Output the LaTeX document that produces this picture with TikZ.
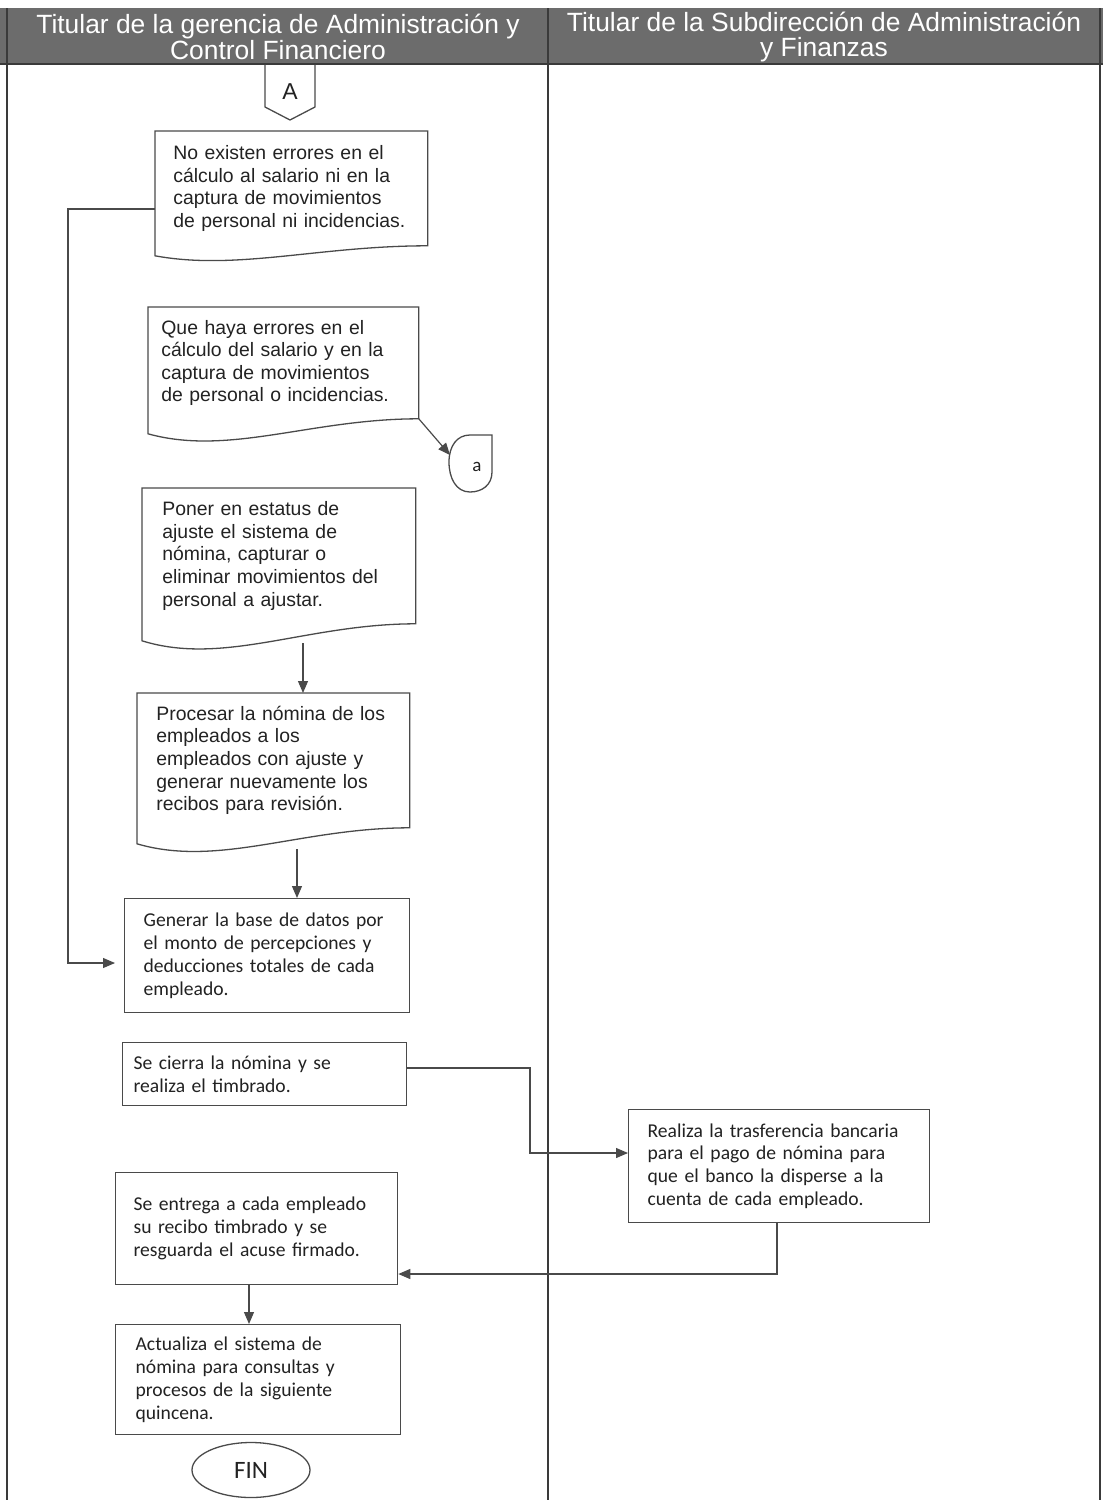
\documentclass[tikz,border=0pt]{standalone}
\usepackage{fontspec}
\setmainfont{Liberation Sans}
\newfontfamily\calibri{Carlito}
\usetikzlibrary{arrows.meta,calc,shapes.geometric}

\definecolor{inkc}{HTML}{222222}
\definecolor{linec}{HTML}{4A4A4A}
\definecolor{headc}{HTML}{6C6C6C}
\definecolor{lanec}{HTML}{3A3A3A}

\newcommand\arialtext{\fontsize{9.7pt}{11.3pt}\selectfont}
\newcommand\calitext{\calibri\fontsize{9.8pt}{11.4pt}\selectfont}
\newcommand\headtext{\fontsize{13.2pt}{12.8pt}\selectfont}

% document symbol: straight top and sides, wavy bottom edge
\newcommand\docoutline[2]{%
  \draw[boxline] (#1.north west) -- (#1.north east) -- (#1.south east)
    .. controls ($(#1.south east)!0.4!(#1.south west)$)
       and ($(#1.south west)!0.3!(#1.south east)+(0,2.5*#2)$)
    .. ($(#1.south west)+(0,#2)$) -- cycle;}

\tikzset{
  boxline/.style={draw=linec, line width=0.65pt},
  doctext/.style={anchor=north west, align=left, inner ysep=0pt,
    font=\arialtext, text=inkc},
  procbox/.style={anchor=north west, align=left, inner ysep=0pt,
    font=\calitext, text=inkc, boxline, fill=white},
  flow/.style={draw=linec, line width=0.6pt,
    -{Triangle[length=6pt,width=5pt]}},
  lane/.style={draw=lanec, line width=0.6pt},
  headlabel/.style={font=\headtext, text=white, align=center},
}

\begin{document}
\begin{tikzpicture}[x=0.5pt, y=-0.5pt]
\useasboundingbox (0,0) rectangle (1103,1500);

% swimlane header and lane borders
\fill[headc] (0,8) rectangle (1103,64);
\draw[lane] (7,8) -- (7,1500);
\draw[lane] (548,8) -- (548,1500);
\draw[lane] (1100,8) -- (1100,1500);
\draw[lane] (0,64) -- (1103,64);

\node[headlabel] (hdA) at (278,37)
  {Titular de la gerencia de Administración y\\Control Financiero};
\node[headlabel] (hdB) at (824,37)
  {Titular de la Subdirección de Administración\\y Finanzas};

% off-page connector A
\node[inner sep=0pt, font=\fontsize{11.5pt}{12pt}\selectfont, text=inkc] (conA) at (290,91.5) {A};
\draw[boxline] ($(conA)+(-25,-27)$) -- ($(conA)+(-25,15.5)$) -- ($(conA)+(0,28.5)$)
  -- ($(conA)+(25,15.5)$) -- ($(conA)+(25,-27)$);

% document steps
\node[doctext, minimum width=136pt, minimum height=57pt, text width=118pt, inner xsep=9pt]
  (doc1) at (155,131)
  {No existen errores en el\\cálculo al salario ni en la\\captura de movimientos\\de personal ni incidencias.};
\docoutline{doc1}{10}

\node[doctext, minimum width=135pt, minimum height=55.5pt, text width=122pt, inner xsep=6.5pt]
  (doc2) at (148,307)
  {Que haya errores en el\\cálculo del salario y en la\\captura de movimientos\\de personal o incidencias.};
\docoutline{doc2}{15}

\node[doctext, minimum width=136.5pt, minimum height=67.5pt, text width=116.5pt, inner xsep=10pt]
  (doc3) at (142,488)
  {Poner en estatus de\\ajuste el sistema de\\nómina, capturar o\\eliminar movimientos del\\personal a ajustar.};
\docoutline{doc3}{17}

\node[doctext, minimum width=136pt, minimum height=67pt, text width=117pt, inner xsep=9.5pt]
  (doc4) at (137,693)
  {Procesar la nómina de los\\empleados a los\\empleados con ajuste y\\generar nuevamente los\\recibos para revisión.};
\docoutline{doc4}{16}

% connector a
\node[inner sep=0pt, font=\calibri\fontsize{9.5pt}{10pt}\selectfont, text=inkc] (cona) at (477,467) {a};
\begin{scope}[shift={(cona)}]
  \draw[boxline] (15,-32) -- (15,5) .. controls (15,18) and (5,25) .. (-7,25)
    .. controls (-21,25) and (-28,11) .. (-28,-5)
    .. controls (-28,-21) and (-20,-32) .. (-7,-32) -- cycle;
\end{scope}
\coordinate (conaIn) at ($(cona)+(-27,-12)$);

% process steps
\node[procbox, minimum width=142.5pt, minimum height=57pt, text width=123.5pt, inner xsep=9.5pt]
  (box5) at (124,898)
  {Generar la base de datos por\\el monto de percepciones y\\deducciones totales de cada\\empleado.};
\node[procbox, minimum width=142pt, minimum height=31.5pt, text width=131pt, inner xsep=5.5pt]
  (box6) at (122,1042)
  {Se cierra la nómina y se\\realiza el timbrado.};
\node[procbox, minimum width=150.5pt, minimum height=56.5pt, text width=131.5pt, inner xsep=9.5pt]
  (box7) at (628,1109)
  {Realiza la trasferencia bancaria\\para el pago de nómina para\\que el banco la disperse a la\\cuenta de cada empleado.};
\node[procbox, minimum width=141pt, minimum height=56pt, text width=123pt, inner xsep=9pt]
  (box8) at (115,1172)
  {Se entrega a cada empleado\\su recibo timbrado y se\\resguarda el acuse firmado.};
\node[procbox, minimum width=142.5pt, minimum height=55pt, text width=122.5pt, inner xsep=10pt]
  (box9) at (115,1324)
  {Actualiza el sistema de\\nómina para consultas y\\procesos de la siguiente\\quincena.};

\node[ellipse, boxline, minimum width=59pt, minimum height=27.5pt, inner sep=0pt,
  font=\calibri\fontsize{12.5pt}{13pt}\selectfont, text=inkc] (fin) at (251,1470) {FIN};

% connectors
\draw[flow] (doc2.south east) -- (conaIn);

\coordinate (lpT) at (68,209);
\coordinate (lpB) at (68,963);
\draw[flow, shorten >=4.5pt] (doc1.west |- lpT) -- (lpT) -- (lpB) -- (box5.west |- lpB);

\coordinate (d3b) at (303,643);
\draw[flow] (d3b) -- (doc4.north -| d3b);
\coordinate (d4b) at (297,849);
\draw[flow] (d4b) -- (box5.north -| d4b);

\coordinate (j1) at (530,1068);
\coordinate (j2) at (530,1153);
\draw[flow] (box6.east |- j1) -- (j1) -- (j2) -- (box7.west |- j2);

\coordinate (j3) at (777,1274);
\draw[flow] (box7.south -| j3) -- (j3) -- (box8.east |- j3);

\coordinate (j4) at (249,1300);
\draw[flow] (box8.south -| j4) -- (box9.north -| j4);
\end{tikzpicture}
\end{document}
